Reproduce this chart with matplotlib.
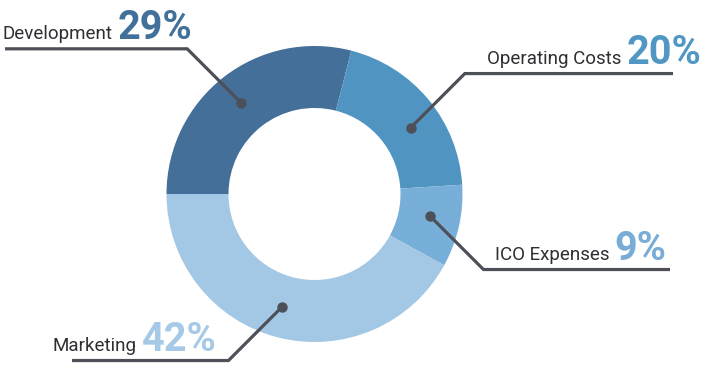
import numpy as np
import matplotlib.pyplot as plt

labels = ['Development', 'Operating Costs', 'ICO Expenses', 'Marketing']
values = [29, 20, 9, 42]
pct_text = ['29%', '20%', '9%', '42%']
colors = ['#436f98', '#5094c1', '#78afd8', '#a3c8e5']
pct_colors = ['#41709a', '#5197c4', '#79acd6', '#a5c9e6']

# layout (pixel coords, y up)
W, H = 704, 374
cx, cy = 314.5, 180
R, ring = 148, 62
dot_shift = [1, -5, 2, -1.5]      # degrees
line_end = [5, 673, 670, 72]
text_x = [3, 487, 495, 53]
diag = 54
line_col = '#4d5059'

fig = plt.figure(figsize=(W / 100, H / 100), dpi=100)
ax = fig.add_axes([0, 0, 1, 1])

wedges, _ = ax.pie(values, colors=colors, startangle=180, counterclock=False,
                   center=(cx, cy), radius=R,
                   wedgeprops=dict(width=ring, edgecolor='none', linewidth=0))
ax.set_xlim(0, W)
ax.set_ylim(0, H)
ax.set_aspect('equal')
ax.axis('off')

for i, w in enumerate(wedges):
    mid = (w.theta1 + w.theta2) / 2 + dot_shift[i]
    rr = R - ring / 2
    dx = cx + rr * np.cos(np.radians(mid))
    dy = cy + rr * np.sin(np.radians(mid))
    sx = np.sign(np.cos(np.radians(mid)))
    sy = np.sign(np.sin(np.radians(mid)))
    ex, ey = dx + sx * diag, dy + sy * diag
    ax.plot([dx, ex, line_end[i]], [dy, ey, ey], color=line_col, lw=2.3,
            solid_capstyle='butt', solid_joinstyle='miter', zorder=3)
    ax.plot(dx, dy, 'o', color=line_col, ms=6.5, zorder=4)
    base = ey + 10
    t = ax.text(text_x[i], base, labels[i], fontsize=13.5, family='Roboto',
                color='#2e2e33', va='baseline', ha='left')
    ax.annotate(pct_text[i], xy=(1, base), xycoords=(t, 'data'), xytext=(3.5, 0),
                textcoords='offset points', fontsize=28.5, family='Roboto',
                fontweight='bold', color=pct_colors[i], va='baseline', ha='left')

fig.savefig('out.png', dpi=100)
